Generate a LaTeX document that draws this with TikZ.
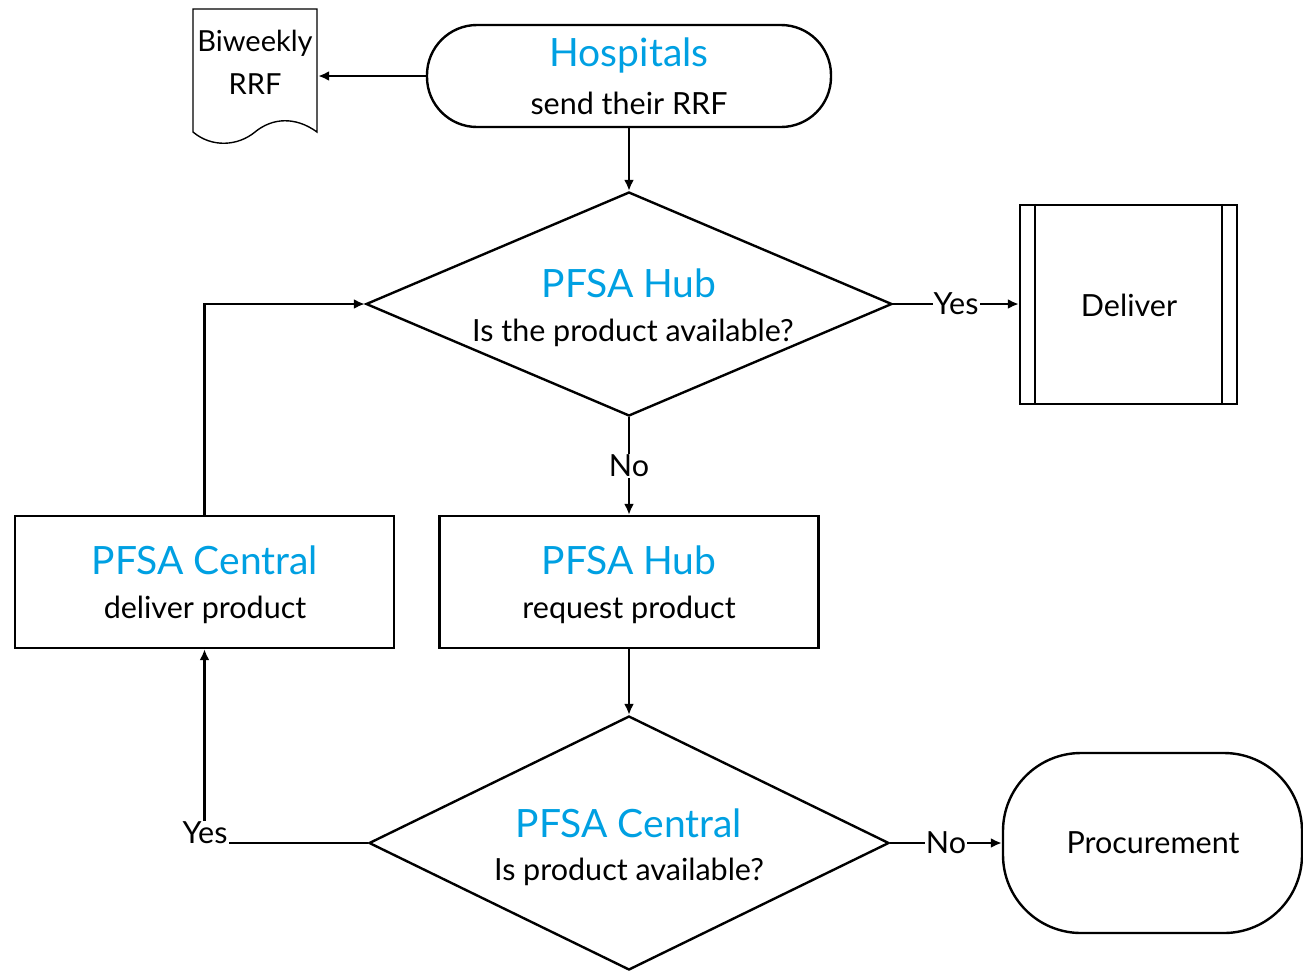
\documentclass[tikz,border=0pt]{standalone}
\usepackage{fontspec}
\setmainfont{Lato}
\usetikzlibrary{shapes.geometric,arrows.meta}
\definecolor{hdr}{RGB}{0,160,226}
\begin{document}
\begin{tikzpicture}[x=1pt,y=-1pt,line width=2.4pt,>={Latex[length=11pt,width=10pt]},
  hd/.style={text=hdr,font=\fontsize{39}{44}\selectfont},
  tx/.style={font=\fontsize{30.5}{34}\selectfont},
  lbl/.style={tx,fill=white,inner sep=1pt},
  box/.style={draw,rectangle,minimum width=379pt,minimum height=132pt},
  dia/.style={draw,diamond,inner sep=0pt}]
\useasboundingbox (0,0) rectangle (1303,970);
% document
\draw[line width=1.4pt] (193,9) -- (317,9) -- (317,132)
  .. controls (295,116) and (272,118) .. (255,132)
  .. controls (238,146) and (212,148) .. (193,132) -- cycle;
\node[minimum width=124pt,minimum height=123pt,inner sep=0pt] (doc) at (255,70.5) {};
\node[tx,font=\fontsize{29}{33}\selectfont] (doct) at (255,43) {Biweekly};
\node[tx,font=\fontsize{29}{33}\selectfont] (docr) at (255,84) {RRF};
% hospitals
\node[draw,rectangle,rounded corners=50pt,minimum width=404pt,minimum height=102pt] (hosp) at (629,76) {};
\node[hd] (hospt) at (629,55) {Hospitals};
\node[tx] (hosps) at (629,103) {send their RRF};
% diamond 1
\node[dia,minimum width=526pt,minimum height=224pt] (d1) at (629,304) {};
\node[hd] (d1t) at (629,283) {PFSA Hub};
\node[tx] (d1s) at (633,333) {Is the product available?};
% deliver
\node[draw,rectangle,minimum width=217pt,minimum height=199pt] (dl) at (1128.5,304.5) {};
\draw ([xshift=16pt]dl.north west) -- ([xshift=16pt]dl.south west);
\draw ([xshift=-16pt]dl.north east) -- ([xshift=-16pt]dl.south east);
\node[tx] (dlt) at (1129,305) {Deliver};
% hub box
\node[box] (hub) at (629,582) {};
\node[hd] (hubt) at (629,560) {PFSA Hub};
\node[tx] (hubs) at (629,610) {request product};
% central box
\node[box] (cen) at (204.5,582) {};
\node[hd] (cent) at (205,560) {PFSA Central};
\node[tx] (cens) at (205,610) {deliver product};
% diamond 2
\node[dia,minimum width=520pt,minimum height=254pt] (d2) at (629,843) {};
\node[hd] (d2t) at (629,823) {PFSA Central};
\node[tx] (d2s) at (629,872) {Is product available?};
% procurement
\node[draw,rectangle,rounded corners=78pt,minimum width=299pt,minimum height=180pt] (pr) at (1152.5,843) {};
\node[tx] (prt) at (1153,843) {Procurement};
% connectors
\draw[->] (hosp.west) -- (doc.east |- hosp.west);
\draw[->] (hosp.south) -- (d1.north);
\draw[->] (d1.east) -- node[lbl] (y1) {Yes} (dl.west |- d1.east);
\draw[->] (d1.south) -- node[lbl] (n1) {No} (hub.north);
\draw[->] (hub.south) -- (d2.north);
\draw[->] (cen.north) |- (d1.west);
\draw[->] (d2.west) -- (cen.south |- d2.west) -- (cen.south);
\node[lbl] (y2) at (205,833) {Yes};
\draw[->] (d2.east) -- node[lbl] (n2) {No} (pr.west);
\end{tikzpicture}
\end{document}
